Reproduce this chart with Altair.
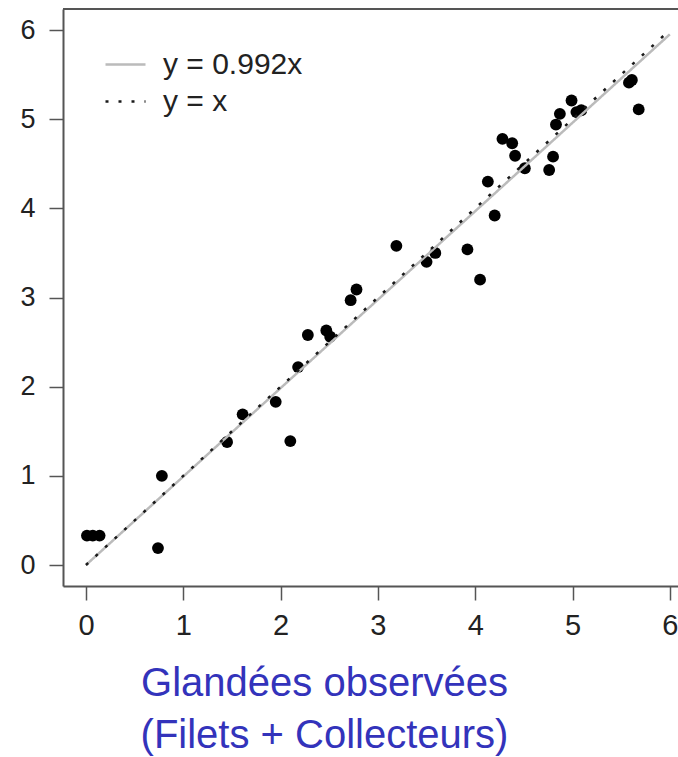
import altair as alt
import pandas as pd

# Observed (x) vs predicted (y) acorn production
obs_x = [0.01, 0.07, 0.14, 0.74, 0.78, 1.45, 1.61, 1.95, 2.10, 2.18, 2.28, 2.47,
         2.51, 2.72, 2.78, 3.19, 3.50, 3.59, 3.92, 4.05, 4.13, 4.20, 4.28, 4.38,
         4.41, 4.51, 4.76, 4.80, 4.83, 4.87, 4.99, 5.04, 5.09, 5.58, 5.61, 5.68]
pred_y = [0.33, 0.33, 0.33, 0.19, 1.00, 1.38, 1.69, 1.83, 1.39, 2.22, 2.58, 2.63,
          2.56, 2.97, 3.09, 3.58, 3.40, 3.50, 3.54, 3.20, 4.30, 3.92, 4.78, 4.73,
          4.59, 4.45, 4.43, 4.58, 4.94, 5.06, 5.21, 5.08, 5.10, 5.41, 5.44, 5.11]

line_labels = ["y = 0.992x", "y = x"]
line_x = [0, 6]
line_y_fit = [0, 5.952]
line_y_id = [0, 6]
ticks = [0, 1, 2, 3, 4, 5, 6]
x_title = ["Glandées observées", "(Filets + Collecteurs)"]

pts = pd.DataFrame({"x": obs_x, "y": pred_y})
lines = pd.DataFrame({
    "x": line_x + line_x,
    "y": line_y_fit + line_y_id,
    "eq": [line_labels[0]] * 2 + [line_labels[1]] * 2,
    "order": [0, 0, 1, 1],
})

FONT = "Liberation Sans"
AX = "#555555"

xscale = alt.Scale(domain=[-0.236, 6.084], nice=False, zero=False)
yscale = alt.Scale(domain=[-0.2355, 6.236], nice=False, zero=False)

xaxis = alt.Axis(values=ticks, format="d", title=x_title, grid=False, tickSize=14, tickWidth=1.5,
                 tickColor=AX, domainColor=AX, domainWidth=2, labelFont=FONT,
                 labelFontSize=29, labelColor="#222222", labelPadding=11,
                 labelOverlap=False, labelBound=False, labelFlush=False,
                 titleFont=FONT, titleFontSize=40, titleFontWeight="normal",
                 titleColor="#3333BB", titleLineHeight=52, titleX=261, titleY=109,
                 titleAlign="center", titleBaseline="alphabetic", titleAnchor="start")
yaxis = alt.Axis(values=ticks, format="d", title=None, grid=False, tickSize=14, tickWidth=1.5,
                 tickColor=AX, domainColor=AX, domainWidth=2, labelFont=FONT,
                 labelFontSize=27, labelColor="#222222", labelPadding=14,
                 labelOverlap=False, labelFlush=False)

points = alt.Chart(pts).mark_circle(size=140, color="black", opacity=1).encode(
    x=alt.X("x:Q", scale=xscale, axis=xaxis),
    y=alt.Y("y:Q", scale=yscale, axis=yaxis),
)

lns = alt.Chart(lines).mark_line(strokeWidth=2.5).encode(
    x=alt.X("x:Q", scale=xscale),
    y=alt.Y("y:Q", scale=yscale),
    detail="eq:N",
    order="order:Q",
    color=alt.Color("eq:N", scale=alt.Scale(domain=line_labels, range=["#BBBBBB", "#1a1a1a"]),
                    legend=alt.Legend(title=None, orient="none", legendX=41, legendY=34,
                                      symbolType="stroke", symbolSize=1600,
                                      symbolStrokeWidth=2.5, labelFont=FONT,
                                      labelFontSize=30, labelColor="#222222",
                                      labelOffset=16, rowPadding=0, padding=0)),
    strokeDash=alt.StrokeDash("eq:N", scale=alt.Scale(domain=line_labels, range=[[1, 0], [3, 10]]),
                              legend=None),
)

top_border = alt.Chart(pd.DataFrame({"a": [0]})).mark_rule(color=AX, strokeWidth=2).encode(
    x=alt.value(0), x2=alt.value(615), y=alt.value(0)
)

chart = alt.layer(points, lns, top_border).properties(
    width=615, height=577,
    autosize=alt.AutoSizeParams(type="none"),
    padding={"left": 63, "top": 9, "right": 0, "bottom": 171},
).configure_view(stroke=None).configure(background="white")

chart.save("out.html", embed_options={"renderer": "svg", "actions": False})
